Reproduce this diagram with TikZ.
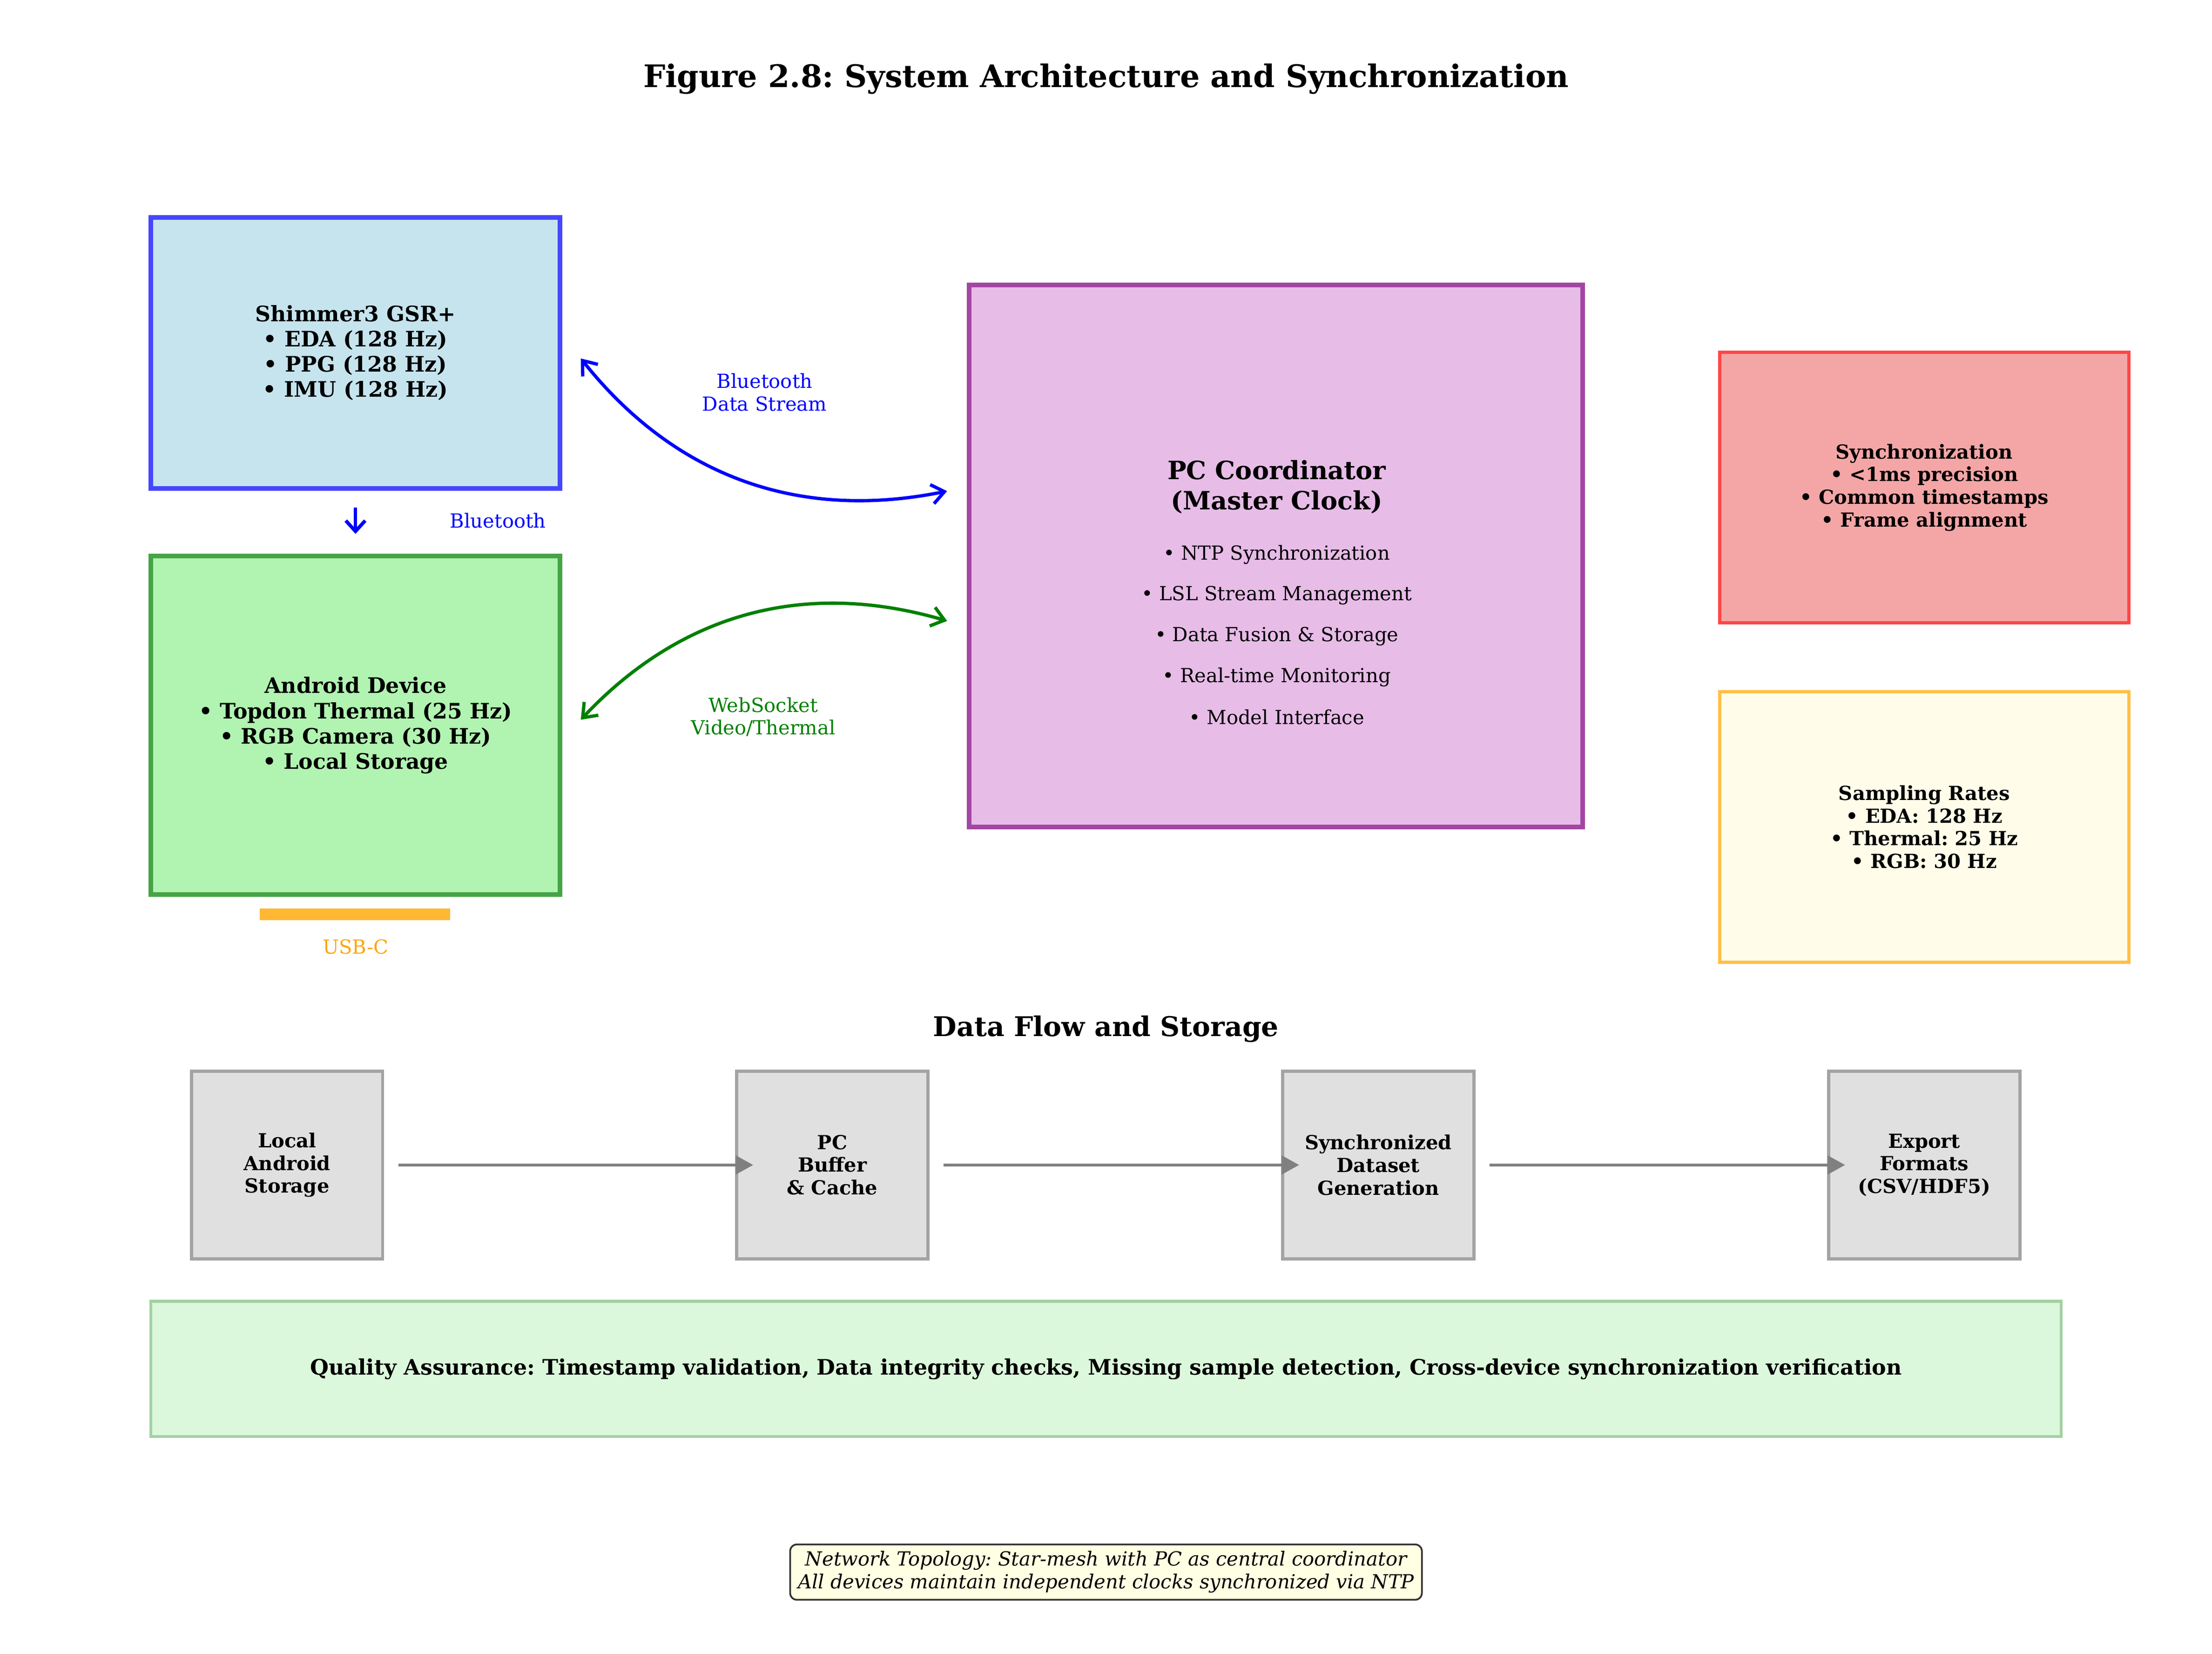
\documentclass[tikz,border=0pt]{standalone}
\usepackage{fontspec}
\setmainfont{DejaVu Serif}
\usetikzlibrary{arrows.meta,calc}
\definecolor{shimfill}{HTML}{C6E4EE}
\definecolor{shimdraw}{HTML}{4646FF}
\definecolor{andfill}{HTML}{B1F3B1}
\definecolor{anddraw}{HTML}{46A446}
\definecolor{pcfill}{HTML}{E7BCE7}
\definecolor{pcdraw}{HTML}{A346A3}
\definecolor{syncfill}{HTML}{F4A6A6}
\definecolor{syncdraw}{HTML}{FF4646}
\definecolor{sampfill}{HTML}{FFFDE9}
\definecolor{sampdraw}{HTML}{FFBF46}
\definecolor{grayfill}{HTML}{E0E0E0}
\definecolor{graydraw}{HTML}{A3A3A3}
\definecolor{qafill}{HTML}{DCF8DC}
\definecolor{qadraw}{HTML}{A3D1A3}
\definecolor{usbbar}{HTML}{FFB833}
\definecolor{usbtext}{HTML}{FFA500}
\definecolor{btblue}{HTML}{0000FF}
\definecolor{wsgreen}{HTML}{008000}
\definecolor{flowgray}{HTML}{808080}
\definecolor{notefill}{HTML}{FFFFE3}
\definecolor{notedraw}{HTML}{333333}
\frenchspacing
\begin{document}
\begin{tikzpicture}[x=0.7274pt,y=-0.7274pt,
  box/.style={draw, rectangle, inner sep=0pt, align=center},
  bigbox/.style={box, line width=2.4pt},
  sidebox/.style={box, line width=1.6pt, minimum width=211pt, minimum height=139.5pt},
  flowbox/.style={box, line width=1.6pt, fill=grayfill, draw=graydraw, minimum width=98.6pt, minimum height=96.7pt,
    font=\fontsize{10}{11.7}\selectfont\bfseries},
  flow/.style={draw=flowgray, line width=1.5pt, -{Triangle[length=9pt,width=9.5pt]}, shorten <=7.3pt, shorten >=-9.3pt},
  curvy/.style={line width=1.7pt, {Straight Barb[length=6.5pt,width=10pt]}-{Straight Barb[length=6.5pt,width=10pt]}},
  lbl/.style={inner sep=0pt, align=center, font=\fontsize{10}{11.7}\selectfont},
  bodytxt/.style={inner sep=0pt, align=center}
]
\useasboundingbox (0,0) rectangle (1568,1172);

% title
\node[bodytxt, font=\fontsize{16}{19}\selectfont\bfseries] (title) at (784,56) {Figure 2.8: System Architecture and Synchronization};

% Shimmer
\node[bigbox, fill=shimfill, draw=shimdraw, minimum width=211pt, minimum height=139.7pt,
  font=\fontsize{11}{13}\selectfont\bfseries] (shim) at (252,250)
  {Shimmer3 GSR+\\• EDA (128 Hz)\\• PPG (128 Hz)\\• IMU (128 Hz)};

% Android
\node[bigbox, fill=andfill, draw=anddraw, minimum width=211pt, minimum height=174.6pt,
  font=\fontsize{11}{13}\selectfont\bfseries] (android) at (252,514)
  {Android Device\\• Topdon Thermal (25 Hz)\\• RGB Camera (30 Hz)\\• Local Storage};

% Shimmer -> Android bluetooth
\draw[btblue, line width=1.8pt, -{Straight Barb[length=5.5pt,width=10pt]}, shorten <=8.7pt, shorten >=10.2pt] (shim) -- (android);
\node[lbl, text=btblue] (btlbl) at (353,369) {Bluetooth};

% USB-C bar
\node[inner sep=0pt, fill=usbbar, minimum width=98.2pt, minimum height=6pt] (usbbar) at (251.5,648) {};
\node[lbl, text=usbtext] (usblbl) at (252,671) {USB-C};

% PC coordinator
\node[bigbox, fill=pcfill, draw=pcdraw, minimum width=316.4pt, minimum height=279.3pt] (pc) at (904.5,394) {};
\node[bodytxt, font=\fontsize{13}{15.6}\selectfont\bfseries] (pctitle) at (905,345) {PC Coordinator\\(Master Clock)};
\node[bodytxt, font=\fontsize{10}{12}\selectfont] (pc1) at (905,393) {• NTP Synchronization};
\node[bodytxt, font=\fontsize{10}{12}\selectfont] (pc2) at (905,422) {• LSL Stream Management};
\node[bodytxt, font=\fontsize{10}{12}\selectfont] (pc3) at (905,451) {• Data Fusion \& Storage};
\node[bodytxt, font=\fontsize{10}{12}\selectfont] (pc4) at (905,480) {• Real-time Monitoring};
\node[bodytxt, font=\fontsize{10}{12}\selectfont] (pc5) at (905,508) {• Model Interface};

% curved links
\coordinate (btA) at ($(shim.east)+(13,4)$);
\coordinate (btB) at ($(pc.west)+(-14,-46)$);
\draw[curvy, btblue] (btA) .. controls (478.7,338) and (566.3,369.3) .. (btB);
\node[lbl, text=btblue] (btlbl2) at (542,278) {Bluetooth\\Data Stream};

\coordinate (wsA) at ($(android.east)+(13,-4)$);
\coordinate (wsB) at ($(pc.west)+(-14,46)$);
\draw[curvy, wsgreen] (wsA) .. controls (483.3,434) and (571,410.7) .. (wsB);
\node[lbl, text=wsgreen] (wslbl) at (541,508) {WebSocket\\Video/Thermal};

% side boxes
\node[sidebox, fill=syncfill, draw=syncdraw, font=\fontsize{10}{11.7}\selectfont\bfseries] (sync) at (1364,345.5)
  {Synchronization\\• <1ms precision\\• Common timestamps\\• Frame alignment};
\node[sidebox, fill=sampfill, draw=sampdraw, font=\fontsize{10}{11.7}\selectfont\bfseries] (samp) at (1364,586)
  {Sampling Rates\\• EDA: 128 Hz\\• Thermal: 25 Hz\\• RGB: 30 Hz};

% data flow
\node[bodytxt, font=\fontsize{14}{16.8}\selectfont\bfseries] (dftitle) at (784,729) {Data Flow and Storage};
\node[flowbox] (f1) at (203.5,825.5) {Local\\Android\\Storage};
\node[flowbox] (f2) at (590,825.5) {PC\\Buffer\\\& Cache};
\node[flowbox] (f3) at (977,825.5) {Synchronized\\Dataset\\Generation};
\node[flowbox] (f4) at (1364,825.5) {Export\\Formats\\(CSV/HDF5)};
\draw[flow] (f1.east) -- (f2.west);
\draw[flow] (f2.east) -- (f3.west);
\draw[flow] (f3.east) -- (f4.west);

% QA
\node[box, line width=1.6pt, fill=qafill, draw=qadraw, minimum width=985pt, minimum height=69.8pt,
  font=\fontsize{11}{13}\selectfont\bfseries] (qa) at (784,970)
  {Quality Assurance: Timestamp validation, Data integrity checks, Missing sample detection, Cross-device synchronization verification};

% footer note
\node[draw=notedraw, fill=notefill, line width=0.9pt, rounded corners=3.5pt, inner xsep=4pt, inner ysep=3.5pt, align=center,
  font=\fontsize{10}{11.7}\selectfont\itshape] (note) at (784,1114)
  {Network Topology: Star-mesh with PC as central coordinator\\All devices maintain independent clocks synchronized via NTP};
\end{tikzpicture}
\end{document}
